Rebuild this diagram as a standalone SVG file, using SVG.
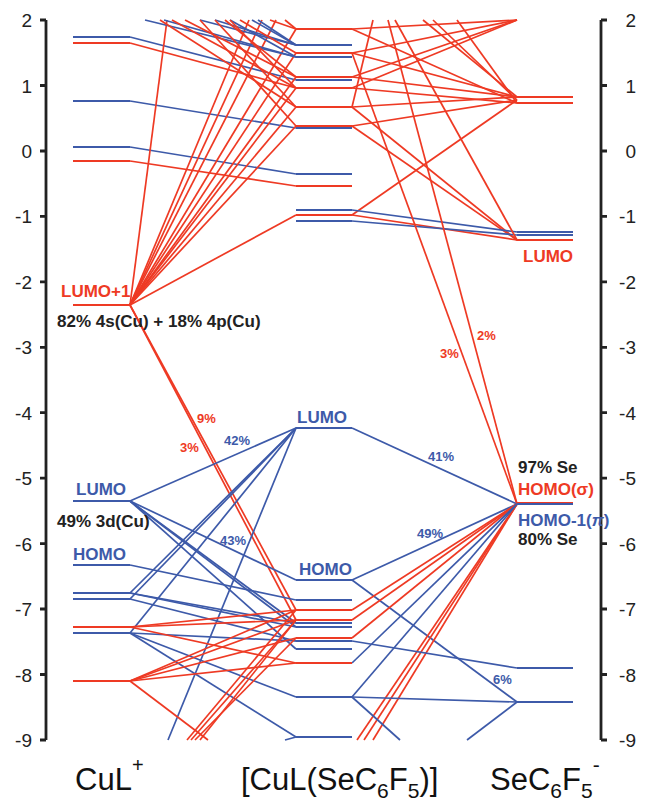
<svg xmlns="http://www.w3.org/2000/svg" width="648" height="805" viewBox="0 0 648 805">
<style>
text{font-family:"Liberation Sans",Arial,sans-serif}
.ax{stroke:#222;stroke-width:2.8;fill:none}
.tk{font-size:19px;fill:#222;text-anchor:end}
.lv{stroke-width:2.2;fill:none}
.r{stroke:#ee3a24}
.b{stroke:#3d5aa9}
#connectors line{stroke-width:1.7}
.tr{fill:#ee3a24;font-weight:bold}
.tb{fill:#3d5aa9;font-weight:bold}
.tk2{fill:#222;font-weight:bold}
.lab{font-size:17px}
.pc{font-size:13px}
.big{font-size:31px;fill:#111}
</style>
<rect width="648" height="805" fill="#fff"/>
<g id="axis-left">
<path class="ax" d="M46 20V740M40 20H46M40 85.5H46M40 151H46M40 216.4H46M40 281.8H46M40 347.3H46M40 412.7H46M40 478.2H46M40 543.6H46M40 609H46M40 674.5H46M40 740H46"/>
<text class="tk" x="32" y="27">2</text><text class="tk" x="32" y="92.5">1</text><text class="tk" x="32" y="158">0</text><text class="tk" x="32" y="223.4">-1</text><text class="tk" x="32" y="288.8">-2</text><text class="tk" x="32" y="354.3">-3</text><text class="tk" x="32" y="419.7">-4</text><text class="tk" x="32" y="485.2">-5</text><text class="tk" x="32" y="550.6">-6</text><text class="tk" x="32" y="616">-7</text><text class="tk" x="32" y="681.5">-8</text><text class="tk" x="32" y="747">-9</text>
</g>
<g id="axis-right">
<path class="ax" d="M601 20V740M601 20H607M601 85.5H607M601 151H607M601 216.4H607M601 281.8H607M601 347.3H607M601 412.7H607M601 478.2H607M601 543.6H607M601 609H607M601 674.5H607M601 740H607"/>
<text class="tk" x="636" y="27">2</text><text class="tk" x="636" y="92.5">1</text><text class="tk" x="636" y="158">0</text><text class="tk" x="636" y="223.4">-1</text><text class="tk" x="636" y="288.8">-2</text><text class="tk" x="636" y="354.3">-3</text><text class="tk" x="636" y="419.7">-4</text><text class="tk" x="636" y="485.2">-5</text><text class="tk" x="636" y="550.6">-6</text><text class="tk" x="636" y="616">-7</text><text class="tk" x="636" y="681.5">-8</text><text class="tk" x="636" y="747">-9</text>
</g>
<g id="connectors">
<line class="b" x1="130" y1="37" x2="296" y2="80"/>
<line class="r" x1="130" y1="43" x2="296" y2="88"/>
<line class="b" x1="130" y1="101" x2="296" y2="128"/>
<line class="b" x1="130" y1="147" x2="296" y2="174"/>
<line class="r" x1="130" y1="161" x2="296" y2="186"/>
<line class="r" x1="130" y1="305" x2="167" y2="20"/>
<line class="r" x1="130" y1="305" x2="249" y2="20"/>
<line class="r" x1="130" y1="305" x2="262" y2="20"/>
<line class="r" x1="130" y1="305" x2="276" y2="20"/>
<line class="r" x1="130" y1="305" x2="296" y2="29"/>
<line class="r" x1="130" y1="305" x2="296" y2="53"/>
<line class="r" x1="130" y1="305" x2="296" y2="77"/>
<line class="r" x1="130" y1="305" x2="296" y2="88"/>
<line class="r" x1="130" y1="305" x2="296" y2="107"/>
<line class="r" x1="130" y1="305" x2="296" y2="126"/>
<line class="r" x1="130" y1="305" x2="296" y2="215"/>
<line class="r" x1="130" y1="305" x2="296" y2="610"/>
<line class="r" x1="130" y1="305" x2="296" y2="620"/>
<line class="b" x1="145" y1="20" x2="296" y2="57"/>
<line class="b" x1="164" y1="20" x2="296" y2="57"/>
<line class="b" x1="200" y1="20" x2="296" y2="45"/>
<line class="b" x1="215" y1="20" x2="296" y2="45"/>
<line class="b" x1="230" y1="20" x2="296" y2="57"/>
<line class="b" x1="252" y1="20" x2="296" y2="45"/>
<line class="b" x1="258" y1="20" x2="296" y2="45"/>
<line class="r" x1="160" y1="20" x2="296" y2="107"/>
<line class="r" x1="172" y1="20" x2="296" y2="88"/>
<line class="r" x1="185" y1="20" x2="296" y2="77"/>
<line class="r" x1="200" y1="20" x2="296" y2="126"/>
<line class="r" x1="215" y1="20" x2="296" y2="107"/>
<line class="r" x1="225" y1="20" x2="296" y2="77"/>
<line class="r" x1="230" y1="20" x2="296" y2="88"/>
<line class="r" x1="240" y1="20" x2="296" y2="53"/>
<line class="r" x1="270" y1="20" x2="296" y2="29"/>
<line class="r" x1="285" y1="20" x2="296" y2="29"/>
<line class="r" x1="352" y1="29" x2="517" y2="103"/>
<line class="r" x1="352" y1="29" x2="517" y2="20"/>
<line class="r" x1="352" y1="53" x2="517" y2="20"/>
<line class="r" x1="352" y1="53" x2="517" y2="97"/>
<line class="r" x1="352" y1="77" x2="517" y2="20"/>
<line class="r" x1="352" y1="77" x2="517" y2="97"/>
<line class="r" x1="352" y1="88" x2="517" y2="20"/>
<line class="r" x1="352" y1="88" x2="517" y2="103"/>
<line class="r" x1="352" y1="107" x2="517" y2="97"/>
<line class="r" x1="352" y1="107" x2="517" y2="240"/>
<line class="r" x1="352" y1="107" x2="373" y2="20"/>
<line class="r" x1="352" y1="126" x2="517" y2="100"/>
<line class="r" x1="352" y1="126" x2="517" y2="240"/>
<line class="r" x1="352" y1="215" x2="517" y2="100"/>
<line class="r" x1="352" y1="215" x2="517" y2="240"/>
<line class="b" x1="352" y1="210" x2="517" y2="232"/>
<line class="b" x1="352" y1="221" x2="517" y2="235"/>
<line class="r" x1="423" y1="20" x2="517" y2="97"/>
<line class="r" x1="433" y1="20" x2="517" y2="100"/>
<line class="r" x1="457" y1="20" x2="517" y2="103"/>
<line class="r" x1="395" y1="20" x2="517" y2="240"/>
<line class="r" x1="352" y1="53" x2="517" y2="504"/>
<line class="r" x1="388" y1="20" x2="517" y2="504"/>
<line class="b" x1="130" y1="501" x2="296" y2="428"/>
<line class="b" x1="130" y1="501" x2="296" y2="580"/>
<line class="b" x1="130" y1="501" x2="296" y2="623"/>
<line class="b" x1="130" y1="501" x2="296" y2="627"/>
<line class="b" x1="130" y1="501" x2="296" y2="649"/>
<line class="b" x1="130" y1="565" x2="296" y2="600"/>
<line class="b" x1="130" y1="593" x2="296" y2="428"/>
<line class="b" x1="130" y1="599" x2="296" y2="428"/>
<line class="b" x1="130" y1="633" x2="296" y2="428"/>
<line class="b" x1="168" y1="740" x2="296" y2="428"/>
<line class="b" x1="130" y1="593" x2="296" y2="623"/>
<line class="b" x1="130" y1="593" x2="296" y2="627"/>
<line class="b" x1="130" y1="599" x2="296" y2="641"/>
<line class="b" x1="130" y1="633" x2="296" y2="641"/>
<line class="b" x1="130" y1="633" x2="296" y2="697"/>
<line class="b" x1="130" y1="633" x2="296" y2="737"/>
<line class="b" x1="285" y1="740" x2="296" y2="737"/>
<line class="r" x1="130" y1="627" x2="296" y2="610"/>
<line class="r" x1="130" y1="627" x2="296" y2="620"/>
<line class="r" x1="130" y1="627" x2="296" y2="663"/>
<line class="r" x1="130" y1="681" x2="296" y2="610"/>
<line class="r" x1="130" y1="681" x2="296" y2="620"/>
<line class="r" x1="130" y1="681" x2="296" y2="638"/>
<line class="r" x1="130" y1="681" x2="296" y2="663"/>
<line class="r" x1="130" y1="681" x2="208" y2="740"/>
<line class="r" x1="187" y1="740" x2="296" y2="610"/>
<line class="r" x1="191" y1="740" x2="296" y2="620"/>
<line class="r" x1="195" y1="740" x2="296" y2="638"/>
<line class="r" x1="200" y1="740" x2="296" y2="620"/>
<line class="b" x1="352" y1="428" x2="517" y2="504"/>
<line class="b" x1="352" y1="580" x2="517" y2="504"/>
<line class="b" x1="352" y1="580" x2="517" y2="702"/>
<line class="r" x1="352" y1="610" x2="517" y2="504"/>
<line class="r" x1="352" y1="620" x2="517" y2="504"/>
<line class="r" x1="352" y1="638" x2="517" y2="504"/>
<line class="r" x1="357" y1="740" x2="517" y2="504"/>
<line class="r" x1="364" y1="740" x2="517" y2="504"/>
<line class="r" x1="373" y1="740" x2="517" y2="504"/>
<line class="b" x1="352" y1="663" x2="517" y2="504"/>
<line class="b" x1="352" y1="697" x2="517" y2="504"/>
<line class="b" x1="352" y1="641" x2="517" y2="668"/>
<line class="b" x1="352" y1="697" x2="517" y2="702"/>
<line class="b" x1="352" y1="697" x2="400" y2="740"/>
<line class="b" x1="467" y1="740" x2="517" y2="702"/>
</g>
<g id="CuL">
<g id="L1"><line class="lv b" x1="73" y1="37" x2="130" y2="37"/></g>
<g id="L2"><line class="lv r" x1="73" y1="43" x2="130" y2="43"/></g>
<g id="L3"><line class="lv b" x1="73" y1="101" x2="130" y2="101"/></g>
<g id="L4"><line class="lv b" x1="73" y1="147" x2="130" y2="147"/></g>
<g id="L5"><line class="lv r" x1="73" y1="161" x2="130" y2="161"/></g>
<g id="L-LUMO1"><line class="lv r" x1="73" y1="305" x2="130" y2="305"/>
<text class="tr lab" x="61" y="297">LUMO+1</text>
<text class="tk2 lab" x="57" y="327">82% 4s(Cu) + 18% 4p(Cu)</text></g>
<g id="L-LUMO"><line class="lv b" x1="73" y1="501" x2="130" y2="501"/>
<text class="tb lab" x="76" y="495">LUMO</text>
<text class="tk2 lab" x="57" y="527">49% 3d(Cu)</text></g>
<g id="L-HOMO"><line class="lv b" x1="73" y1="565" x2="130" y2="565"/>
<text class="tb lab" x="73" y="560">HOMO</text></g>
<g id="L9"><line class="lv b" x1="73" y1="593" x2="130" y2="593"/></g>
<g id="L10"><line class="lv b" x1="73" y1="599" x2="130" y2="599"/></g>
<g id="L11"><line class="lv r" x1="73" y1="627" x2="130" y2="627"/></g>
<g id="L12"><line class="lv b" x1="73" y1="633" x2="130" y2="633"/></g>
<g id="L13"><line class="lv r" x1="73" y1="681" x2="130" y2="681"/></g>
</g>
<g id="Complex">
<g id="M1"><line class="lv r" x1="296" y1="29" x2="352" y2="29"/></g>
<g id="M2"><line class="lv b" x1="296" y1="45" x2="352" y2="45"/></g>
<g id="M3"><line class="lv r" x1="296" y1="53" x2="352" y2="53"/></g>
<g id="M4"><line class="lv b" x1="296" y1="57" x2="352" y2="57"/></g>
<g id="M5"><line class="lv r" x1="296" y1="77" x2="352" y2="77"/></g>
<g id="M6"><line class="lv b" x1="296" y1="80" x2="352" y2="80"/></g>
<g id="M7"><line class="lv r" x1="296" y1="88" x2="352" y2="88"/></g>
<g id="M8"><line class="lv r" x1="296" y1="107" x2="352" y2="107"/></g>
<g id="M10"><line class="lv b" x1="296" y1="128" x2="352" y2="128"/></g>
<g id="M9"><line class="lv r" x1="296" y1="126" x2="352" y2="126"/></g>
<g id="M11"><line class="lv b" x1="296" y1="174" x2="352" y2="174"/></g>
<g id="M12"><line class="lv r" x1="296" y1="186" x2="352" y2="186"/></g>
<g id="M13"><line class="lv b" x1="296" y1="210" x2="352" y2="210"/></g>
<g id="M14"><line class="lv r" x1="296" y1="215" x2="352" y2="215"/></g>
<g id="M15"><line class="lv b" x1="296" y1="221" x2="352" y2="221"/></g>
<g id="M-LUMO"><line class="lv b" x1="296" y1="428" x2="352" y2="428"/>
<text class="tb lab" x="297" y="423">LUMO</text></g>
<g id="M-HOMO"><line class="lv b" x1="296" y1="580" x2="352" y2="580"/>
<text class="tb lab" x="299" y="575">HOMO</text></g>
<g id="M18"><line class="lv b" x1="296" y1="600" x2="352" y2="600"/></g>
<g id="M19"><line class="lv r" x1="296" y1="610" x2="352" y2="610"/></g>
<g id="M20"><line class="lv r" x1="296" y1="620" x2="352" y2="620"/></g>
<g id="M21"><line class="lv b" x1="296" y1="623" x2="352" y2="623"/></g>
<g id="M22"><line class="lv b" x1="296" y1="627" x2="352" y2="627"/></g>
<g id="M24"><line class="lv r" x1="296" y1="638" x2="352" y2="638"/></g>
<g id="M23"><line class="lv b" x1="296" y1="641" x2="352" y2="641"/></g>
<g id="M25"><line class="lv b" x1="296" y1="649" x2="352" y2="649"/></g>
<g id="M26"><line class="lv r" x1="296" y1="663" x2="352" y2="663"/></g>
<g id="M27"><line class="lv b" x1="296" y1="697" x2="352" y2="697"/></g>
<g id="M28"><line class="lv b" x1="296" y1="737" x2="352" y2="737"/></g>
</g>
<g id="SeC6F5">
<g id="R1"><line class="lv r" x1="517" y1="97" x2="573" y2="97"/></g>
<g id="R2"><line class="lv r" x1="517" y1="103" x2="573" y2="103"/></g>
<g id="R3"><line class="lv b" x1="517" y1="232" x2="573" y2="232"/><line class="lv b" x1="517" y1="235" x2="573" y2="235"/></g>
<g id="R-LUMO"><line class="lv r" x1="517" y1="240" x2="573" y2="240"/>
<text class="tr lab" x="523" y="262">LUMO</text></g>
<g id="R-HOMO"><line class="lv r" x1="517" y1="503" x2="573" y2="503"/><line class="lv b" x1="517" y1="504" x2="573" y2="504"/>
<text class="tk2 lab" x="518" y="473">97% Se</text>
<text class="tr lab" x="518" y="495">HOMO(σ)</text>
<text class="tb lab" x="518" y="526">HOMO-1(<tspan font-style="italic">π</tspan>)</text>
<text class="tk2 lab" x="518" y="545">80% Se</text></g>
<g id="R6"><line class="lv b" x1="517" y1="668" x2="573" y2="668"/></g>
<g id="R7"><line class="lv b" x1="517" y1="702" x2="573" y2="702"/></g>
</g>
<g id="percent-labels">
<text class="tr pc" x="197" y="423">9%</text>
<text class="tr pc" x="180" y="452">3%</text>
<text class="tb pc" x="224" y="445">42%</text>
<text class="tb pc" x="220" y="545">43%</text>
<text class="tb pc" x="428" y="461">41%</text>
<text class="tb pc" x="417" y="538">49%</text>
<text class="tb pc" x="493" y="684">6%</text>
<text class="tr pc" x="440" y="358">3%</text>
<text class="tr pc" x="477" y="340">2%</text>
</g>
<g id="titles">
<text class="big" x="75" y="790">CuL<tspan font-size="20" dy="-18">+</tspan></text>
<text class="big" x="241" y="790">[CuL(SeC<tspan font-size="21" dy="8">6</tspan><tspan dy="-8">F</tspan><tspan font-size="21" dy="8">5</tspan><tspan dy="-8">)]</tspan></text>
<text class="big" x="490" y="790">SeC<tspan font-size="21" dy="8">6</tspan><tspan dy="-8">F</tspan><tspan font-size="21" dy="8">5</tspan><tspan font-size="21" dy="-26">-</tspan></text>
</g>
</svg>
